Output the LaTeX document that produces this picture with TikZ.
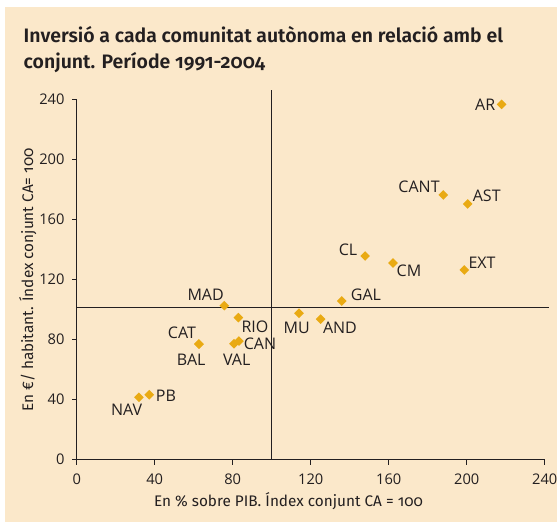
\documentclass[tikz,border=0pt]{standalone}
\usepackage{fontspec}
\setmainfont{Fira Sans}[Numbers=OldStyle]
\newfontfamily\titolfont{Fira Sans SemiBold}[Numbers=OldStyle]
\newfontfamily\plotfont{Open Sans}
\usetikzlibrary{shapes.geometric,positioning}
\definecolor{crema}{HTML}{FBE8CA}
\definecolor{groc}{HTML}{E9AA13}
\definecolor{tinta}{HTML}{231F20}
\tikzset{
  punt/.style={diamond,aspect=1,fill=groc,inner sep=0pt,minimum size=7.4pt},
  etiq/.style={font=\plotfont\fontsize{12}{14}\selectfont,text=tinta,inner sep=0pt},
  num/.style={font=\plotfont\fontsize{11}{13}\selectfont,text=tinta,inner sep=0pt},
  titol/.style={font=\titolfont\fontsize{14.6}{19.5}\selectfont,text=tinta,inner sep=0pt},
  eixtext/.style={font=\fontsize{11.5}{13}\selectfont,text=tinta,inner sep=0pt},
  eix/.style={draw=tinta,line width=0.7pt},
  refl/.style={draw=tinta,line width=1pt}
}
\begin{document}
\begin{tikzpicture}[x=1.4625pt,y=1.125pt]
\useasboundingbox (-39.33,-41.53) rectangle (246.31,306.47);
\fill[crema] (-36.77,-41.53) rectangle (246.31,301.8);

\node[titol,anchor=base west] (titol1) at (-27.3,278.27) {Inversió a cada comunitat autònoma en relació amb el};
\node[titol,anchor=base west] (titol2) at ([yshift=-19.5pt]titol1.base west) {conjunt. Període 1991-2004};

% eixos
\draw[eix] (0,240) -- (0,0) -- (240,0);
\foreach \v in {0,40,...,240}{
  \draw[eix] (0,\v) -- ++(-3.75pt,0);
  \node[num,anchor=east] (ynum\v) at ([xshift=-9pt]0,\v) {\v};
  \draw[eix] (\v,0) -- ++(0,-3.75pt);
  \node[num,anchor=north] (xnum\v) at ([yshift=-10.2pt]\v,0) {\v};
}
\draw[refl] (100,0) -- (100,246.5);
\draw[refl,line width=1.4pt] (0,101.5) -- (242.4,101.5);

\node[eixtext,anchor=base] (xtitol) at (108.6,-30.9) {En \% sobre PIB. Índex conjunt CA = 100};
\node[eixtext,rotate=90,anchor=base] (ytitol) at (-22.4,119.8) {En €/ habitant. Índex conjunt CA= 100};

\node[punt] (ar) at (217.9,236.9) {};
\node[punt] (cant) at (188,176.5) {};
\node[punt] (ast) at (200.5,170.5) {};
\node[punt] (cl) at (147.9,135.8) {};
\node[punt] (cm) at (162.2,131.1) {};
\node[punt] (ext) at (198.8,126.5) {};
\node[punt] (gal) at (135.9,105.8) {};
\node[punt] (mad) at (75.7,102.7) {};
\node[punt] (rio) at (82.9,94.7) {};
\node[punt] (mu) at (114,97.6) {};
\node[punt] (and) at (125.1,93.7) {};
\node[punt] (cat) at (62.7,77.1) {};
\node[punt] (bal) at (62.7,77.1) {};
\node[punt] (val) at (80.7,77.3) {};
\node[punt] (can) at (83.2,79.1) {};
\node[punt] (pb) at (37.2,43.3) {};
\node[punt] (nav) at (31.9,41.6) {};

\node[etiq] (l-ar) at ([shift={(-12.3pt,0pt)}]ar) {AR};
\node[etiq] (l-cant) at ([shift={(-18.2pt,6.2pt)}]cant) {CANT};
\node[etiq] (l-ast) at ([shift={(14.3pt,6.2pt)}]ast) {AST};
\node[etiq] (l-cl) at ([shift={(-12.8pt,4.5pt)}]cl) {CL};
\node[etiq] (l-cm) at ([shift={(12pt,-5.8pt)}]cm) {CM};
\node[etiq] (l-ext) at ([shift={(13.3pt,5.5pt)}]ext) {EXT};
\node[etiq] (l-gal) at ([shift={(18.2pt,4.5pt)}]gal) {GAL};
\node[etiq] (l-mad) at ([shift={(-14pt,8pt)}]mad) {MAD};
\node[etiq] (l-rio) at ([shift={(12.5pt,-6.8pt)}]rio) {RIO};
\node[etiq] (l-mu) at ([shift={(-1.7pt,-10.8pt)}]mu) {MU};
\node[etiq] (l-and) at ([shift={(14.5pt,-6.3pt)}]and) {AND};
\node[etiq] (l-cat) at ([shift={(-12.8pt,8.8pt)}]cat) {CAT};
\node[etiq] (l-bal) at ([shift={(-5.8pt,-11.5pt)}]bal) {BAL};
\node[etiq] (l-val) at ([shift={(2pt,-11.7pt)}]val) {VAL};
\node[etiq] (l-can) at ([shift={(15.8pt,-2.3pt)}]can) {CAN};
\node[etiq] (l-pb) at ([shift={(12.5pt,-0.8pt)}]pb) {PB};
\node[etiq] (l-nav) at ([shift={(-9.2pt,-9pt)}]nav) {NAV};
\end{tikzpicture}
\end{document}
